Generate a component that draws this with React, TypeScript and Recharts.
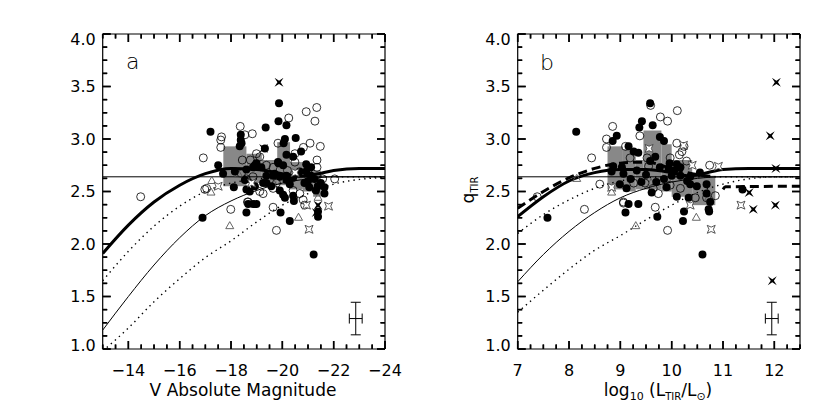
import React from "react"
import { ComposedChart, Scatter, Line, XAxis, YAxis, ReferenceLine, ReferenceArea, ErrorBar } from "recharts"

type Pt = { x: number; y: number }
const pts = (a: number[][]): Pt[] => a.map(([x, y]) => ({ x, y }))

// ---------- panel a : V absolute magnitude ----------
const aFilled = pts([
  [-17.2, 3.07], [-17.5, 2.75], [-17.69, 2.67], [-18.11, 2.54], [-18.38, 3.04], [-18.38, 2.99], [-18.34, 2.93],
  [-18.6, 2.71], [-18.86, 2.73], [-19.35, 3.11], [-19.87, 3.34], [-19.85, 3.17], [-20.16, 3.13], [-20.1, 3.0],
  [-20.05, 2.96], [-19.85, 2.77], [-20.52, 3.01], [-20.73, 2.88], [-20.42, 2.83], [-20.93, 2.76], [-21.12, 2.73],
  [-20.93, 2.69], [-18.99, 2.77], [-19.18, 2.73], [-19.38, 2.65], [-19.64, 2.65], [-19.9, 2.64], [-20.16, 2.65],
  [-20.42, 2.63], [-20.68, 2.69], [-20.29, 2.57], [-19.9, 2.51], [-20.1, 2.44], [-20.42, 2.46], [-18.6, 2.52],
  [-18.93, 2.55], [-19.25, 2.58], [-19.57, 2.55], [-20.86, 2.58], [-21.05, 2.54], [-21.25, 2.62], [-21.31, 2.51],
  [-21.64, 2.54], [-21.64, 2.48], [-21.38, 2.55], [-21.12, 2.65], [-18.67, 2.38], [-18.86, 2.38], [-18.99, 2.38],
  [-16.89, 2.25], [-18.6, 2.3], [-19.93, 2.3], [-20.29, 2.22], [-21.22, 1.9], [-21.39, 2.31], [-21.39, 2.26],
  [-20.45, 2.41], [-18.41, 2.96], [-19.32, 2.91], [-19.83, 2.78], [-20.16, 2.85], [-18.15, 2.69], [-18.93, 2.75],
  [-19.7, 2.67], [-20.03, 2.75], [-20.16, 2.61], [-18.54, 2.61], [-18.73, 2.5], [-19.38, 2.58], [-20.03, 2.47],
  [-21.0, 2.6], [-21.5, 2.58],
])
const aOpen = pts([
  [-14.48, 2.45], [-16.92, 2.82], [-17.6, 2.99], [-17.6, 2.92], [-16.98, 2.52], [-18.36, 3.12], [-18.83, 3.05],
  [-18.44, 2.8], [-18.75, 2.8], [-19.12, 2.83], [-19.38, 2.75], [-19.83, 2.96], [-20.25, 3.2], [-20.93, 3.26],
  [-21.34, 3.3], [-21.27, 3.17], [-21.08, 2.96], [-21.48, 2.93], [-20.82, 2.92], [-20.49, 2.86], [-21.35, 2.8],
  [-21.35, 2.73], [-20.49, 2.78], [-19.64, 2.73], [-18.6, 2.62], [-18.4, 2.67], [-18.86, 2.64], [-19.12, 2.5],
  [-19.25, 2.48], [-19.64, 2.53], [-19.77, 2.58], [-20.42, 2.51], [-20.68, 2.48], [-20.81, 2.42], [-22.04, 2.62],
  [-21.57, 2.62], [-17.99, 2.33], [-18.64, 2.4], [-19.64, 2.35], [-19.77, 2.13], [-20.87, 2.37], [-17.63, 3.02],
  [-18.54, 3.04], [-18.99, 2.86], [-17.05, 2.53], [-18.67, 2.4], [-21.0, 2.68], [-20.2, 2.7],
])
const aTri = pts([[-17.95, 2.17], [-20.63, 2.25], [-17.22, 2.49], [-17.25, 2.6], [-21.39, 2.44], [-18.3, 2.66], [-19.6, 2.6]])
const aStarOpen = pts([[-17.5, 2.55], [-20.94, 2.37], [-21.8, 2.36], [-21.04, 2.14], [-18.8, 2.58], [-20.5, 2.68]])
const aStarFilled = pts([[-19.87, 3.54], [-21.39, 2.37], [-21.32, 2.3], [-19.27, 2.91]])

const aBinEdges = [-17.7, -18.6, -19.2, -19.8, -20.3, -20.8, -21.2, -21.5]
const aBinHigh = [2.93, 2.86, 2.8, 2.97, 2.78, 2.74, 2.7]
const aBinLow = [2.55, 2.58, 2.57, 2.56, 2.52, 2.5, 2.45]

const aThick = pts([[-13, 1.91], [-14, 2.18], [-15, 2.4], [-16, 2.56], [-17, 2.67], [-18, 2.72], [-19, 2.71], [-20, 2.67], [-20.7, 2.645], [-21.4, 2.67], [-22, 2.7], [-23, 2.72], [-24, 2.72]])
const aThin = pts([[-13, 1.18], [-14, 1.5], [-15, 1.8], [-16, 2.06], [-17, 2.27], [-18, 2.41], [-19, 2.51], [-20, 2.58], [-21, 2.62], [-22, 2.64], [-24, 2.64]])
const aDotHi = pts([[-13, 1.65], [-14, 1.93], [-15, 2.17], [-16, 2.36], [-17, 2.5], [-18, 2.58], [-19, 2.62], [-20, 2.64], [-24, 2.64]])
const aDotLo = pts([[-13, 0.98], [-14, 1.2], [-15, 1.45], [-16, 1.67], [-17, 1.87], [-18, 2.03], [-19, 2.21], [-20, 2.37], [-21, 2.48], [-22, 2.57], [-23, 2.615], [-24, 2.635]])
const aErr = [{ x: -22.86, y: 1.29, ex: 0.25, ey: 0.155 }]

const aXMajor = [-14, -16, -18, -20, -22, -24]
const aXLabels = ["−14", "−16", "−18", "−20", "−22", "−24"]

// ---------- panel b : log10 L_TIR ----------
const bFilled = pts([
  [8.14, 3.07], [9.58, 3.34], [9.42, 3.17], [9.37, 3.11], [9.63, 3.13], [8.93, 3.03], [8.85, 2.98], [9.77, 3.02],
  [9.85, 2.98], [9.16, 2.93], [9.26, 2.88], [9.35, 2.87], [9.68, 2.83], [9.96, 2.77], [10.1, 2.76], [10.17, 2.73],
  [8.86, 2.74], [9.03, 2.73], [8.83, 2.69], [9.06, 2.67], [9.32, 2.7], [9.58, 2.79], [9.77, 2.73], [9.94, 2.72],
  [10.0, 2.65], [10.17, 2.65], [10.36, 2.64], [10.55, 2.68], [10.36, 2.57], [10.49, 2.55], [10.68, 2.57],
  [8.99, 2.57], [9.12, 2.53], [9.41, 2.59], [9.7, 2.59], [9.9, 2.54], [10.1, 2.45], [10.33, 2.44], [9.61, 2.49],
  [10.68, 2.48], [10.75, 2.4], [10.72, 2.33], [9.16, 2.38], [9.35, 2.38], [9.1, 2.3], [9.72, 2.26], [7.58, 2.25],
  [10.24, 2.31], [10.22, 2.22], [10.6, 1.9], [10.73, 2.31], [11.38, 2.52], [9.5, 2.66], [9.85, 2.62], [10.05, 2.7],
  [10.3, 2.6], [9.2, 2.62],
])
const bOpen = pts([
  [7.38, 2.45], [8.3, 2.33], [8.44, 2.82], [8.6, 2.57], [8.85, 3.12], [8.73, 3.0], [8.73, 2.92], [9.38, 3.03],
  [9.59, 3.32], [9.78, 3.21], [9.92, 3.17], [10.11, 3.27], [10.1, 2.96], [10.24, 2.93], [10.2, 2.88], [10.15, 2.85],
  [10.29, 2.79], [10.74, 2.75], [9.1, 2.93], [9.19, 2.82], [9.52, 2.82], [9.97, 2.82], [9.55, 2.74], [9.26, 2.58],
  [9.48, 2.58], [9.64, 2.53], [9.74, 2.48], [9.97, 2.56], [10.17, 2.53], [10.46, 2.44], [10.68, 2.44], [10.85, 2.46],
  [9.06, 2.39], [9.68, 2.35], [9.92, 2.13], [9.06, 2.4],
])
const bTri = pts([[9.3, 2.17], [10.48, 2.25], [8.83, 2.49], [8.15, 2.62], [10.72, 2.44], [9.6, 2.58]])
const bStarOpen = pts([[10.77, 2.14], [10.36, 2.37], [11.35, 2.37], [8.83, 2.54], [10.4, 2.75], [10.91, 2.74], [9.56, 2.91], [10.23, 2.94]])
const bStarFilled = pts([[12.04, 3.54], [11.92, 3.03], [12.03, 2.72], [11.51, 2.49], [11.59, 2.33], [12.02, 2.37], [11.96, 1.65]])

const bBinEdges = [8.75, 9.05, 9.3, 9.45, 9.8, 10.0, 10.4, 10.85]
const bBinHigh = [2.93, 2.9, 2.8, 3.08, 2.95, 2.8, 2.65]
const bBinLow = [2.52, 2.5, 2.52, 2.52, 2.5, 2.45, 2.37]

const bThick = pts([[7, 2.26], [7.5, 2.45], [8, 2.6], [8.5, 2.68], [9, 2.71], [9.5, 2.71], [10, 2.68], [10.3, 2.65], [10.6, 2.67], [11, 2.71], [11.5, 2.72], [12.5, 2.72]])
const bDash1 = pts([[7, 2.34], [7.5, 2.5], [8, 2.63], [8.5, 2.72], [9, 2.77], [9.5, 2.78], [10, 2.72], [10.5, 2.66], [10.85, 2.64]])
const bDash2 = pts([[11.0, 2.52], [11.05, 2.545], [12.5, 2.55]])
const bThin = pts([[7, 1.64], [7.5, 1.9], [8, 2.12], [8.5, 2.3], [9, 2.44], [9.5, 2.53], [10, 2.59], [10.5, 2.625], [11, 2.64], [12.5, 2.64]])
const bDotHi = pts([[7, 2.1], [7.5, 2.28], [8, 2.42], [8.5, 2.53], [9, 2.6], [9.5, 2.63], [10, 2.64], [12.5, 2.64]])
const bDotLo = pts([[7, 1.35], [7.5, 1.56], [8, 1.76], [8.5, 1.94], [9, 2.08], [9.5, 2.23], [10, 2.37], [10.5, 2.49], [11, 2.57], [11.5, 2.62], [12, 2.64], [12.5, 2.64]])
const bErr = [{ x: 11.95, y: 1.29, ex: 0.125, ey: 0.155 }]

const bXMajor = [7, 8, 9, 10, 11, 12]
const bXLabels = ["7", "8", "9", "10", "11", "12"]

const yMajor = [1.0, 1.5, 2.0, 2.5, 3.0, 3.5, 4.0]
const yLabels = ["1.0", "1.5", "2.0", "2.5", "3.0", "3.5", "4.0"]
const qRef = 2.64

const FONT = "'DejaVu Sans', sans-serif"

function steps(a: number, b: number, s: number) {
  const out: number[] = []
  const n = Math.round(Math.abs(b - a) / s)
  for (let i = 0; i <= n; i++) out.push(+(a + Math.sign(b - a) * s * i).toFixed(4))
  return out
}

const majorIndex = (v: number, majors: number[]) => majors.findIndex((m) => Math.abs(m - v) < 1e-6)

// axis ticks: inward mark on every tick, label on the major ones
function makeTick(side: string, majors: number[], labels?: string[]) {
  return (p: any) => {
    const i = majorIndex(p.payload.value, majors)
    const len = i >= 0 ? 8 : 4.5
    const x = Number(p.x)
    const y = Number(p.y)
    let x2 = x
    let y2 = y
    if (side === "bottom") y2 = y - len
    if (side === "top") y2 = y + len
    if (side === "left") x2 = x + len
    if (side === "right") x2 = x - len
    let label = null
    if (labels && i >= 0 && side === "bottom")
      label = (
        <text x={x} y={y + 27} textAnchor="middle" fontSize={16} fontFamily={FONT} fill="#000">
          {labels[i]}
        </text>
      )
    if (labels && i >= 0 && side === "left") {
      let dy = 5.5
      if (i === majors.length - 1) dy += 5
      if (i === 0) dy -= 4
      label = (
        <text x={x - 7} y={y + dy} textAnchor="end" fontSize={16} fontFamily={FONT} fill="#000">
          {labels[i]}
        </text>
      )
    }
    return (
      <g>
        <line x1={x} y1={y} x2={x2} y2={y2} stroke="#000" strokeWidth={1.5} />
        {label}
      </g>
    )
  }
}

// the same marks again as scatter strokes on a transparent frame chart
type TickPt = { x: number; y: number; major: boolean }
const tickShape = (dx: number, dy: number) => (p: any) => {
  const len = p.payload && p.payload.major ? 8 : 4.5
  return <path d={`M${p.cx},${p.cy}L${p.cx + dx * len},${p.cy + dy * len}`} stroke="#000" strokeWidth={1.5} fill="none" />
}
const tickBottom = tickShape(0, -1)
const tickTop = tickShape(0, 1)
const tickLeft = tickShape(1, 0)
const tickRight = tickShape(-1, 0)

const FilledCircle = (p: any) => <circle cx={p.cx} cy={p.cy} r={4} fill="#000" />
const OpenCircle = (p: any) => <circle cx={p.cx} cy={p.cy} r={4} fill="none" stroke="#000" strokeWidth={0.8} />
const Triangle = (p: any) => (
  <path d={`M${p.cx},${p.cy - 4.5}L${p.cx + 4},${p.cy + 2.5}L${p.cx - 4},${p.cy + 2.5}Z`} fill="none" stroke="#555" strokeWidth={0.9} />
)
const starPath = (cx: number, cy: number, o: number, i: number) =>
  `M${cx - o},${cy - o}L${cx},${cy - i}L${cx + o},${cy - o}L${cx + i},${cy}L${cx + o},${cy + o}L${cx},${cy + i}L${cx - o},${cy + o}L${cx - i},${cy}Z`
const StarOpen = (p: any) => <path d={starPath(p.cx, p.cy, 4, 2.2)} fill="#fff" stroke="#444" strokeWidth={0.9} />
const StarFilled = (p: any) => <path d={starPath(p.cx, p.cy, 4.5, 1.6)} fill="#000" />
const NoShape = () => <g />

interface PanelProps {
  xDomain: [number, number]
  reversed?: boolean
  xTicks: number[]
  xMajor: number[]
  xLabels: string[]
  binEdges: number[]
  binLow: number[]
  binHigh: number[]
  filled: Pt[]
  open: Pt[]
  tri: Pt[]
  starOpen: Pt[]
  starFilled: Pt[]
  solidThick: Pt[]
  dashed: Pt[][]
  thin: Pt[]
  dotHi: Pt[]
  dotLo: Pt[]
  err: any[]
}

function TickFrame({ xDomain, reversed, xTicks, xMajor }: { xDomain: [number, number]; reversed?: boolean; xTicks: number[]; xMajor: number[] }) {
  const yTicks = steps(1, 4, 0.125)
  const xLeft = reversed ? xDomain[1] : xDomain[0]
  const xRight = reversed ? xDomain[0] : xDomain[1]
  const tB: TickPt[] = xTicks.map((v) => ({ x: v, y: 1, major: majorIndex(v, xMajor) >= 0 }))
  const tT: TickPt[] = xTicks.map((v) => ({ x: v, y: 4, major: majorIndex(v, xMajor) >= 0 }))
  const tL: TickPt[] = yTicks.map((v) => ({ x: xLeft, y: v, major: majorIndex(v, yMajor) >= 0 }))
  const tR: TickPt[] = yTicks.map((v) => ({ x: xRight, y: v, major: majorIndex(v, yMajor) >= 0 }))
  return (
    <ComposedChart width={415} height={415} margin={{ top: 34, right: 30, bottom: 0, left: 0 }}>
      <XAxis type="number" dataKey="x" domain={xDomain} reversed={reversed} height={66} tick={false} axisLine={false} tickLine={false} />
      <YAxis type="number" dataKey="y" domain={[1, 4]} width={102.7} tick={false} axisLine={false} tickLine={false} />
      <Scatter data={tB} shape={tickBottom} isAnimationActive={false} />
      <Scatter data={tT} shape={tickTop} isAnimationActive={false} />
      <Scatter data={tL} shape={tickLeft} isAnimationActive={false} />
      <Scatter data={tR} shape={tickRight} isAnimationActive={false} />
    </ComposedChart>
  )
}

function Panel(props: PanelProps) {
  const yTicks = steps(1, 4, 0.125)
  const bins = props.binLow.map((lo, i) => ({ x1: props.binEdges[i], x2: props.binEdges[i + 1], lo, hi: props.binHigh[i] }))
  const axisCommon = {
    type: "number" as const,
    allowDataOverflow: true,
    interval: 0 as const,
    tickSize: 0,
    tickMargin: 0,
    tickLine: false,
    axisLine: { stroke: "#000", strokeWidth: 1.2 },
  }
  return (
    <div style={{ position: "relative", width: 415, height: 415 }}>
      <ComposedChart width={415} height={415} margin={{ top: 4, right: 0, bottom: 0, left: 0 }}>
        <XAxis {...axisCommon} dataKey="x" domain={props.xDomain} reversed={props.reversed} ticks={props.xTicks} height={66} tick={makeTick("bottom", props.xMajor, props.xLabels)} />
        <XAxis {...axisCommon} xAxisId="top" orientation="top" dataKey="x" domain={props.xDomain} reversed={props.reversed} ticks={props.xTicks} height={30} tick={makeTick("top", props.xMajor)} />
        <YAxis {...axisCommon} dataKey="y" domain={[1, 4]} ticks={yTicks} width={102.7} tick={makeTick("left", yMajor, yLabels)} />
        <YAxis {...axisCommon} yAxisId="right" orientation="right" dataKey="y" domain={[1, 4]} ticks={yTicks} width={30} tick={makeTick("right", yMajor)} />
        {bins.map((b, i) => (
          <ReferenceArea key={"bin" + i} x1={b.x1} x2={b.x2} y1={b.lo} y2={b.hi} fill="#888" fillOpacity={1} stroke="none" />
        ))}
        <ReferenceLine y={qRef} stroke="#000" strokeWidth={1} />
        <Scatter data={props.open} shape={OpenCircle} isAnimationActive={false} />
        <Scatter data={props.tri} shape={Triangle} isAnimationActive={false} />
        <Scatter data={props.filled} shape={FilledCircle} isAnimationActive={false} />
        <Scatter data={props.starOpen} shape={StarOpen} isAnimationActive={false} />
        <Scatter data={props.starFilled} shape={StarFilled} isAnimationActive={false} />
        <Line data={props.dotHi} dataKey="y" type="monotone" stroke="#000" strokeWidth={1.4} strokeDasharray="1.4 4" dot={false} isAnimationActive={false} />
        <Line data={props.dotLo} dataKey="y" type="monotone" stroke="#000" strokeWidth={1.4} strokeDasharray="1.4 4" dot={false} isAnimationActive={false} />
        <Line data={props.thin} dataKey="y" type="monotone" stroke="#000" strokeWidth={1} dot={false} isAnimationActive={false} />
        <Line data={props.solidThick} dataKey="y" type="monotone" stroke="#000" strokeWidth={3} dot={false} isAnimationActive={false} />
        {props.dashed.map((d, i) => (
          <Line key={"d" + i} data={d} dataKey="y" type="monotone" stroke="#000" strokeWidth={3} strokeDasharray="9 5" dot={false} isAnimationActive={false} />
        ))}
        <Scatter data={props.err} shape={NoShape} isAnimationActive={false}>
          <ErrorBar dataKey="ex" direction="x" width={5} stroke="#000" strokeWidth={1} />
          <ErrorBar dataKey="ey" direction="y" width={5} stroke="#000" strokeWidth={1} />
        </Scatter>
      </ComposedChart>
      <div style={{ position: "absolute", left: 0, top: 0 }}>
        <TickFrame xDomain={props.xDomain} reversed={props.reversed} xTicks={props.xTicks} xMajor={props.xMajor} />
      </div>
    </div>
  )
}

export default function App() {
  return (
    <div style={{ position: "absolute", left: 0, top: 0, width: 830, height: 415, background: "#fff" }}>
      <div style={{ position: "absolute", left: 0, top: 0 }}>
        <Panel
          xDomain={[-24, -13]}
          reversed
          xTicks={steps(-13, -24, 0.5)}
          xMajor={aXMajor}
          xLabels={aXLabels}
          binEdges={aBinEdges}
          binLow={aBinLow}
          binHigh={aBinHigh}
          filled={aFilled}
          open={aOpen}
          tri={aTri}
          starOpen={aStarOpen}
          starFilled={aStarFilled}
          solidThick={aThick}
          dashed={[]}
          thin={aThin}
          dotHi={aDotHi}
          dotLo={aDotLo}
          err={aErr}
        />
      </div>
      <div style={{ position: "absolute", left: 415, top: 0 }}>
        <Panel
          xDomain={[7, 12.5]}
          xTicks={steps(7, 12.5, 0.25)}
          xMajor={bXMajor}
          xLabels={bXLabels}
          binEdges={bBinEdges}
          binLow={bBinLow}
          binHigh={bBinHigh}
          filled={bFilled}
          open={bOpen}
          tri={bTri}
          starOpen={bStarOpen}
          starFilled={bStarFilled}
          solidThick={bThick}
          dashed={[bDash1, bDash2]}
          thin={bThin}
          dotHi={bDotHi}
          dotLo={bDotLo}
          err={bErr}
        />
      </div>
      <svg width={830} height={415} style={{ position: "absolute", left: 0, top: 0, pointerEvents: "none" }} fontFamily={FONT}>
        <text x={126} y={69} fontSize={22} fontWeight={200}>a</text>
        <text x={540} y={70} fontSize={22} fontWeight={200}>b</text>
        <text transform="translate(474,190) rotate(-90)" textAnchor="middle" fontSize={17}>
          q<tspan fontSize={10} dy={4}>TIR</tspan>
        </text>
        <text x={243} y={396} textAnchor="middle" fontSize={17}>V Absolute Magnitude</text>
        <text x={658} y={396} textAnchor="middle" fontSize={17}>
          log<tspan fontSize={11} dy={4}>10</tspan>
          <tspan dy={-4}> (L</tspan>
          <tspan fontSize={10} dy={4}>TIR</tspan>
          <tspan dy={-4}>/L</tspan>
          <tspan fontSize={11} dy={4}>⊙</tspan>
          <tspan dy={-4}>)</tspan>
        </text>
      </svg>
    </div>
  )
}
